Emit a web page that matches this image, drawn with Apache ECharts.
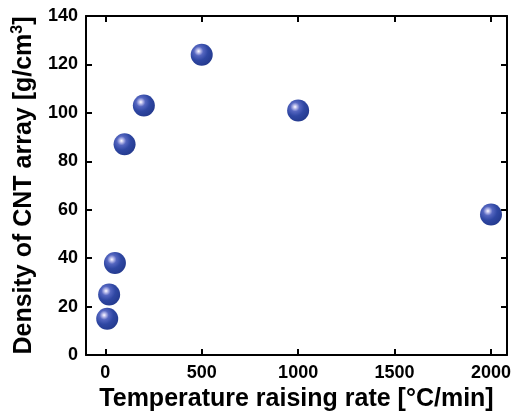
<!DOCTYPE html>
<html><head><meta charset="utf-8">
<script src="https://cdn.jsdelivr.net/npm/echarts@6/dist/echarts.min.js"></script>
<style>html,body{margin:0;padding:0;background:#fff}#c{width:513px;height:412px}</style>
</head><body><div id="c"></div>
<script>
const rates = [10, 20, 50, 100, 200, 500, 1000, 2000];
const densities = [15, 25, 38, 87, 103, 124, 101, 58];
const xTicks = [0, 500, 1000, 1500, 2000];
const yTicks = [0, 20, 40, 60, 80, 100, 120, 140];
const xTitle = 'Temperature raising rate [°C/min]';

const font = 'Liberation Sans, Arial, sans-serif';
const chart = echarts.init(document.getElementById('c'));
const sphere = {
  type: 'radial', x: 0.36, y: 0.34, r: 0.7,
  colorStops: [
    {offset: 0, color: '#ffffff'},
    {offset: 0.1, color: '#c8c8f0'},
    {offset: 0.3, color: '#5566c0'},
    {offset: 0.6, color: '#2f47a3'},
    {offset: 1, color: '#243a8e'}
  ]
};
const line = {show: true, onZero: false, lineStyle: {color: '#000', width: 2}};
const tick = (vals) => ({show: true, inside: true, length: 6, lineStyle: {color: '#000', width: 2}, customValues: vals});
chart.setOption({
  animation: false,
  backgroundColor: '#fff',
  grid: {left: 86, right: 6, top: 16, bottom: 57, containLabel: false, outerBoundsMode: 'none'},
  xAxis: [
    {
      type: 'value', min: -100, max: 2083,
      axisLine: line, splitLine: {show: false},
      axisTick: tick(xTicks),
      axisLabel: {color: '#000', fontFamily: font, fontWeight: 'bold', fontSize: 18, margin: 9,
        customValues: xTicks, formatter: v => String(v)},
      name: xTitle, nameLocation: 'middle', nameGap: 30,
      nameTextStyle: {color: '#000', fontFamily: font, fontWeight: 'bold', fontSize: 25}
    },
    {
      type: 'value', position: 'top', min: -100, max: 2083,
      axisLine: line, splitLine: {show: false},
      axisTick: tick(xTicks),
      axisLabel: {show: false, customValues: xTicks}
    }
  ],
  yAxis: [
    {
      type: 'value', min: 0, max: 140,
      axisLine: line, splitLine: {show: false},
      axisTick: tick(yTicks),
      axisLabel: {color: '#000', fontFamily: font, fontWeight: 'bold', fontSize: 18, margin: 8, customValues: yTicks},
      name: '{t|Density of CNT array [g/cm}{s|3}{t|]}', nameLocation: 'middle', nameGap: 46,
      nameTextStyle: {
        rich: {
          t: {color: '#000', fontFamily: font, fontWeight: 'bold', fontSize: 25, lineHeight: 30},
          s: {color: '#000', fontFamily: font, fontWeight: 'bold', fontSize: 16, lineHeight: 18, verticalAlign: 'top'}
        }
      }
    },
    {
      type: 'value', position: 'right', min: 0, max: 140,
      axisLine: line, splitLine: {show: false},
      axisTick: tick(yTicks),
      axisLabel: {show: false, customValues: yTicks}
    }
  ],
  series: [{
    type: 'scatter',
    xAxisIndex: 0, yAxisIndex: 0,
    symbol: 'circle', symbolSize: 22,
    itemStyle: {color: sphere, opacity: 1},
    data: rates.map((r, i) => [r, densities[i]])
  }]
});
</script></body></html>
